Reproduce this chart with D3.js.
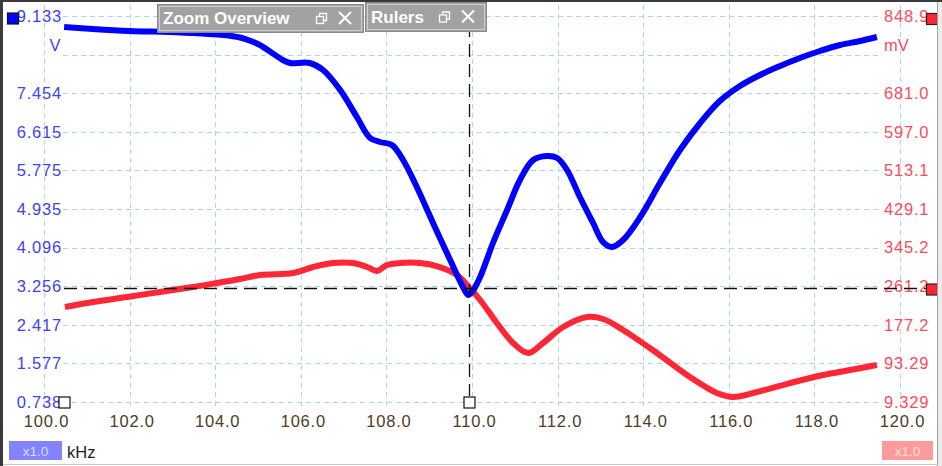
<!DOCTYPE html>
<html><head><meta charset="utf-8">
<script src="https://cdn.jsdelivr.net/npm/d3@7"></script>
<style>
html,body{margin:0;padding:0;background:#fff;overflow:hidden}
svg{display:block}
</style></head>
<body>
<svg id="c" width="942" height="466"></svg>
<script>
// ---- data ----
const freqTicks = [100,102,104,106,108,110,112,114,116,118,120];
const voltTicks = [0.738,1.577,2.417,3.256,4.096,4.935,5.775,6.615,7.454,9.133];
const voltGrid = [0.738,1.577,2.417,3.256,4.096,4.935,5.775,6.615,7.454,8.294,9.133];
const mvTicks = [9.329,93.29,177.2,261.2,345.2,429.1,513.1,597.0,681.0,848.9];
const mvTickLabels = ["9.329","93.29","177.2","261.2","345.2","429.1","513.1","597.0","681.0","848.9"];

const blueFreq = [100.47,101.14,102.0,102.94,103.7,104.2,104.58,104.82,105.05,105.58,105.75,106.21,106.52,106.92,107.31,107.62,107.85,108.13,108.39,108.71,109.09,109.49,109.79,109.91,110.0,110.19,110.49,110.82,111.12,111.43,111.75,111.99,112.22,112.52,112.83,113.06,113.27,113.53,113.93,114.39,114.86,115.33,115.79,116.26,116.73,117.2,117.66,118.13,118.6,119.07,119.46];
const blueVolt = [8.894,8.85,8.807,8.785,8.75,8.72,8.665,8.595,8.50,8.176,8.111,8.111,7.959,7.524,6.936,6.48,6.393,6.327,6.001,5.414,4.631,3.826,3.239,3.065,3.13,3.457,4.196,4.914,5.566,6.001,6.088,6.045,5.784,5.197,4.631,4.218,4.109,4.261,4.761,5.501,6.219,6.806,7.284,7.611,7.85,8.046,8.22,8.372,8.502,8.589,8.676];

const redFreq = [100.49,101.14,101.94,102.71,103.48,104.04,104.58,105.05,105.82,106.29,106.75,107.22,107.55,107.78,108.01,108.32,108.79,109.25,109.65,109.95,110.19,110.58,110.96,111.31,111.66,112.13,112.69,113.06,113.53,114.32,115.09,115.72,116.1,116.66,117.43,118.2,118.83,119.46];
const redMv = [216.0,226.8,237.7,248.6,259.4,268.2,276.8,285.6,289.9,302.9,311.6,311.6,302.9,294.2,307.3,311.6,311.6,302.9,285.6,257.2,231.2,181.2,137.6,115.9,137.6,172.5,194.2,189.9,166.0,115.9,63.7,28.9,20.2,31.1,50.5,68.0,78.8,89.7];

const rulerFreq = 109.93;
const rulerVolt = 3.22;

// ---- scales ----
const svg = d3.select("#c");
const x = d3.scaleLinear().domain([100,120]).range([44,900]);
const yL = d3.scaleLinear().domain([0.738,9.133]).range([402,16]);
const yR = d3.scaleLinear().domain([9.329,848.9]).range([402,16]);

const FONT = "'Liberation Sans', Arial, sans-serif";

svg.append("rect").attr("x",0).attr("y",0).attr("width",942).attr("height",466).attr("fill","#fff");

// grid
const grid = svg.append("g").attr("stroke","#a9d8ea").attr("stroke-width",1).attr("stroke-dasharray","5,4");
grid.selectAll("line.v").data(freqTicks).join("line")
  .attr("x1",d=>Math.round(x(d))+0.5).attr("x2",d=>Math.round(x(d))+0.5)
  .attr("y1",5).attr("y2",406);
grid.selectAll("line.h").data(voltGrid).join("line")
  .attr("x1",63).attr("x2",881)
  .attr("y1",d=>Math.round(yL(d))+0.5).attr("y2",d=>Math.round(yL(d))+0.5);

// axes (labels only)
const axL = d3.axisLeft(yL).tickValues(voltTicks).tickFormat(d3.format(".3f")).tickSize(0).tickPadding(0);
const gL = svg.append("g").attr("transform","translate(62,0)").call(axL);
gL.select(".domain").remove();
gL.selectAll("text").attr("font-family",FONT).attr("font-size",16.5).attr("fill","#3f3ff5").attr("letter-spacing","0.8px");

const axR = d3.axisRight(yR).tickValues(mvTicks).tickFormat((d,i)=>mvTickLabels[i]).tickSize(0).tickPadding(0);
const gR = svg.append("g").attr("transform","translate(884,0)").call(axR);
gR.select(".domain").remove();
gR.selectAll("text").attr("font-family",FONT).attr("font-size",16.5).attr("fill","#ff4a5c").attr("letter-spacing","0.8px");

const axB = d3.axisBottom(x).tickValues(freqTicks).tickFormat(d3.format(".1f")).tickSize(0).tickPadding(0);
const gB = svg.append("g").attr("transform","translate(2,415)").call(axB);
gB.select(".domain").remove();
gB.selectAll("text").attr("font-family",FONT).attr("font-size",16.5).attr("fill","#4e3c22").attr("letter-spacing","0.8px");

// unit labels
svg.append("text").attr("x",55).attr("y",51).attr("text-anchor","middle").attr("font-family",FONT).attr("font-size",16.5).attr("fill","#3f3ff5").text("V");
svg.append("text").attr("x",884).attr("y",51).attr("font-family",FONT).attr("font-size",16.5).attr("fill","#ff4a5c").text("mV");

// curves
const lineR = d3.line().x((d,i)=>x(redFreq[i])).y(d=>yR(d)).curve(d3.curveCatmullRom.alpha(0.5));
const lineL = d3.line().x((d,i)=>x(blueFreq[i])).y(d=>yL(d)).curve(d3.curveCatmullRom.alpha(0.5));
svg.append("path").attr("d",lineR(redMv)).attr("fill","none").attr("stroke","#ff2636").attr("stroke-width",6).attr("stroke-linejoin","round");
svg.append("path").attr("d",lineL(blueVolt)).attr("fill","none").attr("stroke","#0000ff").attr("stroke-width",6).attr("stroke-linejoin","round");

// rulers
const rx = Math.round(x(rulerFreq))+0.5, ry = Math.round(yL(rulerVolt))+0.5;
svg.append("line").attr("x1",64).attr("x2",927).attr("y1",ry).attr("y2",ry)
  .attr("stroke","#111").attr("stroke-width",1.3).attr("stroke-dasharray","13,7");
svg.append("line").attr("x1",rx).attr("x2",rx).attr("y1",4).attr("y2",396)
  .attr("stroke","#111").attr("stroke-width",1.3).attr("stroke-dasharray","13,7");

// markers
function sq(cx,cy,fill,stroke){
  svg.append("rect").attr("x",cx-5.5).attr("y",cy-5.5).attr("width",11).attr("height",11)
    .attr("fill",fill).attr("stroke",stroke).attr("stroke-width",1.2);
}
sq(64.5,402.5,"#fff","#111");
sq(rx,402.5,"#fff","#111");
sq(13,18.5,"#0000ff","#111");
sq(932,19,"#ff2636","#222");
sq(932,289.5,"#ff2636","#222");

// overlay panels
function panel(x0,y0,w,h,title,tx){
  const g = svg.append("g");
  g.append("rect").attr("x",x0+0.5).attr("y",y0+0.5).attr("width",w).attr("height",h).attr("fill","#a2a2a2").attr("stroke","#8a8a8a");
  g.append("rect").attr("x",x0+2.5).attr("y",y0+2.5).attr("width",w-4).attr("height",h-4).attr("fill","none").attr("stroke","#cfcfcf");
  g.append("text").attr("x",x0+tx).attr("y",y0+h/2+6).attr("font-family",FONT).attr("font-weight","bold").attr("font-size",17).attr("fill","#fff").text(title);
  const ix = x0+w-47, iy = y0+h/2-5;
  g.append("rect").attr("x",ix+0.5).attr("y",iy+3.5).attr("width",7).attr("height",7).attr("fill","none").attr("stroke","#fff").attr("stroke-width",1.3);
  g.append("path").attr("d",`M${ix+3.5},${iy+3.5}V${iy+0.5}H${ix+10.5}V${iy+7.5}H${ix+7.5}`).attr("fill","none").attr("stroke","#fff").attr("stroke-width",1.3);
  const cx = x0+w-18, cy = y0+h/2;
  g.append("path").attr("d",`M${cx-6},${cy-6}L${cx+6},${cy+6}M${cx+6},${cy-6}L${cx-6},${cy+6}`).attr("stroke","#fff").attr("stroke-width",2);
}
panel(157,4,206,28,"Zoom Overview",6);
panel(365,2,121,29,"Rulers",6);

// bottom scale badges
svg.append("rect").attr("x",9).attr("y",441).attr("width",53).attr("height",19).attr("fill","#8383ff");
svg.append("text").attr("x",35.5).attr("y",455.5).attr("text-anchor","middle").attr("font-family",FONT).attr("font-size",13.5).attr("fill","#dcdcff").text("x1.0");
svg.append("text").attr("x",67).attr("y",458).attr("font-family",FONT).attr("font-size",16.5).attr("fill","#2a1a2a").text("kHz");
svg.append("rect").attr("x",882).attr("y",441).attr("width",51).attr("height",19).attr("fill","#ff9a9a");
svg.append("text").attr("x",907.5).attr("y",455.5).attr("text-anchor","middle").attr("font-family",FONT).attr("font-size",13.5).attr("fill","#ffe0e0").text("x1.0");

// window edges
svg.append("rect").attr("x",0).attr("y",0).attr("width",3).attr("height",466).attr("fill","#3a3a3a");
svg.append("rect").attr("x",0).attr("y",0).attr("width",942).attr("height",2).attr("fill","#3a3a3a");
svg.append("rect").attr("x",938).attr("y",2).attr("width",4).attr("height",464).attr("fill","#ececec");
svg.append("line").attr("x1",937.5).attr("x2",937.5).attr("y1",2).attr("y2",466).attr("stroke","#a0a0a0");
svg.append("line").attr("x1",3).attr("x2",938).attr("y1",464.5).attr("y2",464.5).attr("stroke","#c8c8c8");
</script>
</body></html>
